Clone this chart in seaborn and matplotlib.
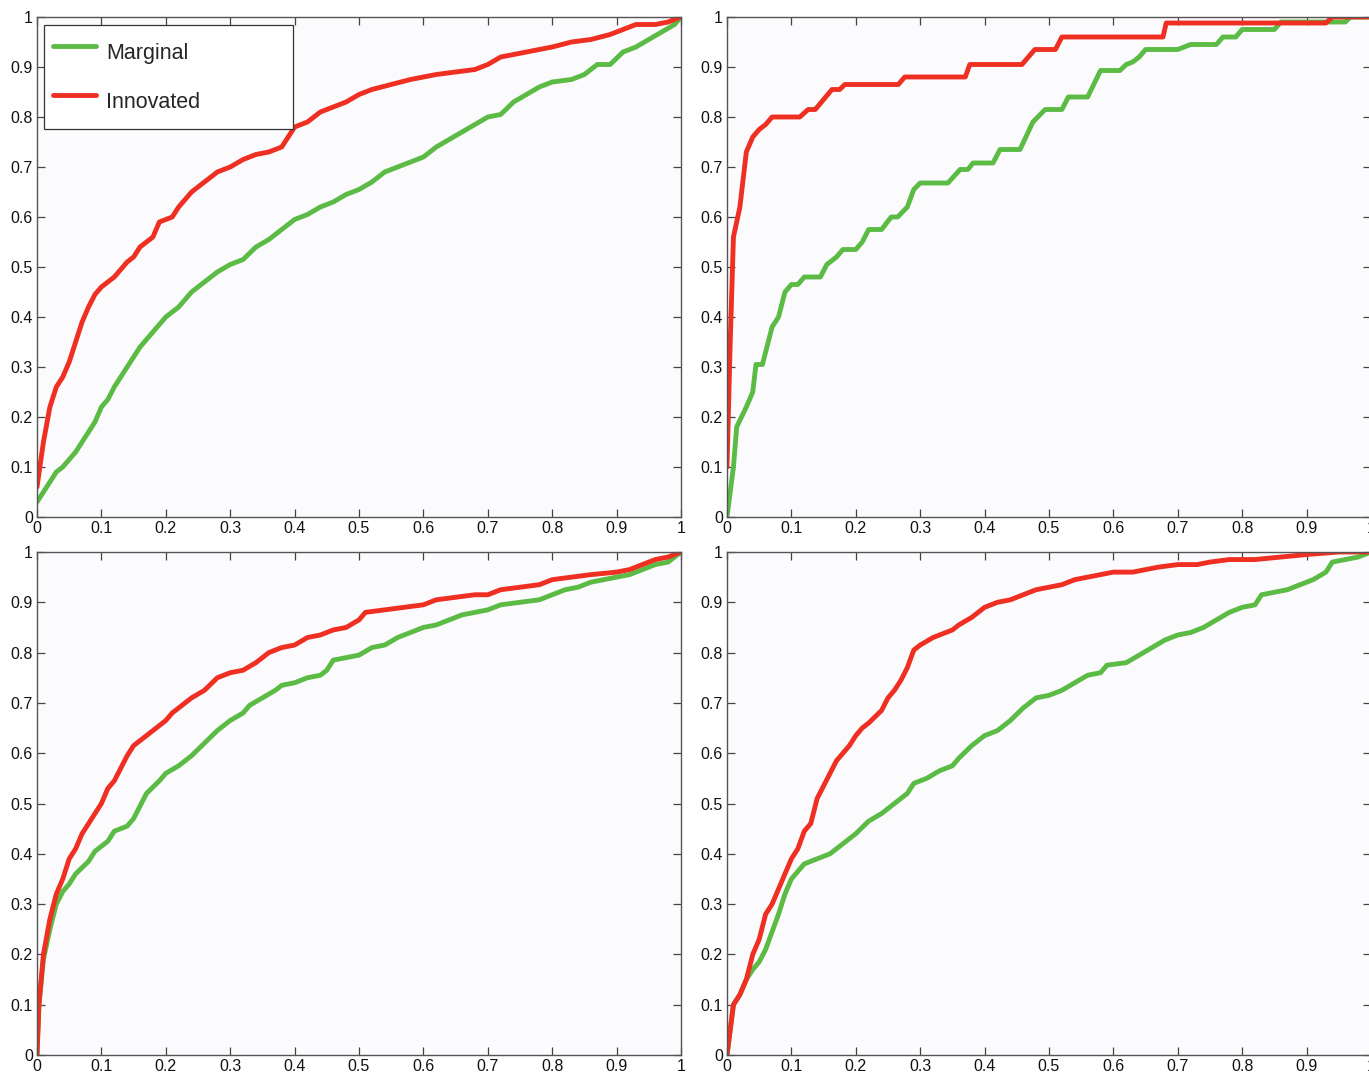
import numpy as np
import pandas as pd
import seaborn as sns
import matplotlib.pyplot as plt

# top-left panel
tl_x_innov = [0, 0.01, 0.02, 0.03, 0.04, 0.05, 0.06, 0.07, 0.08, 0.09, 0.1, 0.12, 0.14, 0.15, 0.16, 0.18,
              0.19, 0.21, 0.22, 0.24, 0.26, 0.28, 0.30, 0.32, 0.34, 0.36, 0.38, 0.40, 0.42, 0.44, 0.46, 0.48,
              0.50, 0.52, 0.55, 0.58, 0.60, 0.62, 0.65, 0.68, 0.70, 0.72, 0.74, 0.76, 0.78, 0.80, 0.83, 0.86,
              0.89, 0.91, 0.93, 0.96, 0.98, 1.0]
tl_y_innov = [0.06, 0.15, 0.22, 0.26, 0.28, 0.31, 0.35, 0.39, 0.42, 0.445, 0.46, 0.48, 0.51, 0.52, 0.54, 0.56,
              0.59, 0.60, 0.62, 0.65, 0.67, 0.69, 0.70, 0.715, 0.725, 0.73, 0.74, 0.78, 0.79, 0.81, 0.82, 0.83,
              0.845, 0.855, 0.865, 0.875, 0.88, 0.885, 0.89, 0.895, 0.905, 0.92, 0.925, 0.93, 0.935, 0.94, 0.95, 0.955,
              0.965, 0.975, 0.985, 0.985, 0.99, 1.0]
tl_x_marg = [0, 0.01, 0.02, 0.03, 0.04, 0.06, 0.07, 0.08, 0.09, 0.10, 0.11, 0.12, 0.13, 0.14, 0.15, 0.16,
             0.18, 0.20, 0.22, 0.24, 0.26, 0.28, 0.30, 0.32, 0.34, 0.36, 0.38, 0.40, 0.42, 0.44, 0.46, 0.48,
             0.50, 0.52, 0.54, 0.56, 0.58, 0.60, 0.62, 0.64, 0.66, 0.68, 0.70, 0.72, 0.74, 0.76, 0.78, 0.80,
             0.83, 0.85, 0.87, 0.89, 0.91, 0.93, 0.95, 0.97, 0.99, 1.0]
tl_y_marg = [0.03, 0.05, 0.07, 0.09, 0.10, 0.13, 0.15, 0.17, 0.19, 0.22, 0.235, 0.26, 0.28, 0.30, 0.32, 0.34,
             0.37, 0.40, 0.42, 0.45, 0.47, 0.49, 0.505, 0.515, 0.54, 0.555, 0.575, 0.595, 0.605, 0.62, 0.63, 0.645,
             0.655, 0.67, 0.69, 0.70, 0.71, 0.72, 0.74, 0.755, 0.77, 0.785, 0.80, 0.805, 0.83, 0.845, 0.86, 0.87,
             0.875, 0.885, 0.905, 0.905, 0.93, 0.94, 0.955, 0.97, 0.985, 1.0]

# top-right panel
tr_x_innov = [0, 0.005, 0.01, 0.02, 0.03, 0.04, 0.05, 0.06, 0.07, 0.113, 0.126, 0.137, 0.163, 0.175, 0.183,
              0.266, 0.276, 0.37, 0.377, 0.458, 0.478, 0.51, 0.52, 0.677, 0.682, 0.93, 0.94, 1.0]
tr_y_innov = [0.1, 0.35, 0.56, 0.62, 0.73, 0.76, 0.775, 0.785, 0.80, 0.80, 0.815, 0.815, 0.855, 0.855, 0.865,
              0.865, 0.88, 0.88, 0.905, 0.905, 0.935, 0.935, 0.96, 0.96, 0.988, 0.988, 1.0, 1.0]
tr_x_marg = [0, 0.01, 0.015, 0.03, 0.04, 0.045, 0.055, 0.07, 0.08, 0.09, 0.10, 0.11, 0.12, 0.145, 0.155, 0.17,
             0.18, 0.2, 0.21, 0.22, 0.24, 0.255, 0.265, 0.28, 0.29, 0.30, 0.343, 0.362, 0.374, 0.382, 0.413, 0.424,
             0.455, 0.475, 0.494, 0.52, 0.53, 0.56, 0.58, 0.61, 0.62, 0.63, 0.64, 0.65, 0.70, 0.72, 0.76, 0.77,
             0.79, 0.80, 0.85, 0.86, 0.96, 0.968, 1.0]
tr_y_marg = [0.0, 0.1, 0.18, 0.22, 0.25, 0.305, 0.305, 0.38, 0.40, 0.45, 0.465, 0.465, 0.48, 0.48, 0.505, 0.52,
             0.535, 0.535, 0.55, 0.575, 0.575, 0.60, 0.60, 0.62, 0.655, 0.668, 0.668, 0.695, 0.695, 0.708, 0.708, 0.735,
             0.735, 0.79, 0.815, 0.815, 0.84, 0.84, 0.893, 0.893, 0.905, 0.91, 0.92, 0.935, 0.935, 0.945, 0.945, 0.96,
             0.96, 0.975, 0.975, 0.99, 0.99, 1.0, 1.0]

# bottom-left panel
bl_x_innov = [0, 0.003, 0.01, 0.02, 0.03, 0.04, 0.05, 0.06, 0.07, 0.08, 0.09, 0.10, 0.11, 0.12, 0.13, 0.14,
              0.15, 0.16, 0.18, 0.2, 0.21, 0.22, 0.24, 0.26, 0.28, 0.30, 0.32, 0.34, 0.36, 0.38, 0.40, 0.42,
              0.44, 0.46, 0.48, 0.50, 0.51, 0.54, 0.57, 0.60, 0.62, 0.65, 0.68, 0.70, 0.72, 0.75, 0.78, 0.80,
              0.83, 0.86, 0.90, 0.92, 0.94, 0.96, 0.98, 1.0]
bl_y_innov = [0.0, 0.1, 0.2, 0.27, 0.32, 0.35, 0.39, 0.41, 0.44, 0.46, 0.48, 0.50, 0.53, 0.545, 0.57, 0.595,
              0.615, 0.625, 0.645, 0.665, 0.68, 0.69, 0.71, 0.725, 0.75, 0.76, 0.765, 0.78, 0.80, 0.81, 0.815, 0.83,
              0.835, 0.845, 0.85, 0.865, 0.88, 0.885, 0.89, 0.895, 0.905, 0.91, 0.915, 0.915, 0.925, 0.93, 0.935, 0.945,
              0.95, 0.955, 0.96, 0.965, 0.975, 0.985, 0.99, 1.0]
bl_x_marg = [0, 0.003, 0.01, 0.02, 0.03, 0.04, 0.05, 0.06, 0.08, 0.09, 0.11, 0.12, 0.14, 0.15, 0.16, 0.17,
             0.19, 0.20, 0.22, 0.24, 0.26, 0.28, 0.30, 0.32, 0.33, 0.35, 0.37, 0.38, 0.40, 0.42, 0.44, 0.45,
             0.46, 0.48, 0.50, 0.52, 0.54, 0.56, 0.58, 0.60, 0.62, 0.64, 0.66, 0.68, 0.70, 0.72, 0.75, 0.78,
             0.80, 0.82, 0.84, 0.86, 0.88, 0.90, 0.92, 0.94, 0.96, 0.98, 1.0]
bl_y_marg = [0.0, 0.1, 0.19, 0.25, 0.30, 0.325, 0.34, 0.36, 0.385, 0.405, 0.425, 0.445, 0.455, 0.47, 0.495, 0.52,
             0.545, 0.56, 0.575, 0.595, 0.62, 0.645, 0.665, 0.68, 0.695, 0.71, 0.725, 0.735, 0.74, 0.75, 0.755, 0.765,
             0.785, 0.79, 0.795, 0.81, 0.815, 0.83, 0.84, 0.85, 0.855, 0.865, 0.875, 0.88, 0.885, 0.895, 0.90, 0.905,
             0.915, 0.925, 0.93, 0.94, 0.945, 0.95, 0.955, 0.965, 0.975, 0.98, 1.0]

# bottom-right panel
br_x_innov = [0, 0.005, 0.01, 0.02, 0.03, 0.04, 0.05, 0.06, 0.07, 0.08, 0.09, 0.10, 0.11, 0.12, 0.13, 0.14,
              0.15, 0.16, 0.17, 0.18, 0.19, 0.20, 0.21, 0.22, 0.24, 0.25, 0.26, 0.27, 0.28, 0.29, 0.30, 0.32,
              0.34, 0.35, 0.36, 0.38, 0.40, 0.42, 0.44, 0.46, 0.48, 0.50, 0.52, 0.54, 0.56, 0.58, 0.60, 0.63,
              0.65, 0.67, 0.70, 0.73, 0.75, 0.78, 0.82, 0.86, 0.9, 0.95, 1.0]
br_y_innov = [0.0, 0.05, 0.1, 0.12, 0.15, 0.20, 0.23, 0.28, 0.30, 0.33, 0.36, 0.39, 0.41, 0.445, 0.46, 0.51,
              0.535, 0.56, 0.585, 0.60, 0.615, 0.635, 0.65, 0.66, 0.685, 0.71, 0.725, 0.745, 0.77, 0.805, 0.815, 0.83,
              0.84, 0.845, 0.855, 0.87, 0.89, 0.90, 0.905, 0.915, 0.925, 0.93, 0.935, 0.945, 0.95, 0.955, 0.96, 0.96,
              0.965, 0.97, 0.975, 0.975, 0.98, 0.985, 0.985, 0.99, 0.995, 1.0, 1.0]
br_x_marg = [0, 0.01, 0.02, 0.03, 0.04, 0.05, 0.06, 0.07, 0.08, 0.09, 0.10, 0.11, 0.12, 0.14, 0.16, 0.18,
             0.20, 0.22, 0.24, 0.26, 0.28, 0.29, 0.31, 0.33, 0.35, 0.36, 0.38, 0.40, 0.42, 0.44, 0.46, 0.48,
             0.50, 0.52, 0.54, 0.56, 0.58, 0.59, 0.62, 0.64, 0.66, 0.68, 0.70, 0.72, 0.74, 0.76, 0.78, 0.80,
             0.82, 0.83, 0.85, 0.87, 0.89, 0.91, 0.93, 0.94, 0.96, 0.98, 1.0]
br_y_marg = [0.0, 0.1, 0.12, 0.15, 0.17, 0.185, 0.21, 0.245, 0.28, 0.32, 0.35, 0.365, 0.38, 0.39, 0.40, 0.42,
             0.44, 0.465, 0.48, 0.50, 0.52, 0.54, 0.55, 0.565, 0.575, 0.59, 0.615, 0.635, 0.645, 0.665, 0.69, 0.71,
             0.715, 0.725, 0.74, 0.755, 0.76, 0.775, 0.78, 0.795, 0.81, 0.825, 0.835, 0.84, 0.85, 0.865, 0.88, 0.89,
             0.895, 0.915, 0.92, 0.925, 0.935, 0.945, 0.96, 0.98, 0.985, 0.99, 1.0]

ticks = [0, 0.1, 0.2, 0.3, 0.4, 0.5, 0.6, 0.7, 0.8, 0.9, 1]
tick_labels = ['0', '0.1', '0.2', '0.3', '0.4', '0.5', '0.6', '0.7', '0.8', '0.9', '1']

sns.set_style("ticks")
plt.rcParams['font.family'] = ['Liberation Sans', 'DejaVu Sans']

GREEN = '#5bbb45'
RED = '#ee2f22'

fig = plt.figure(figsize=(13.69, 10.72), dpi=100)
W, H = 1369, 1072
# axes boxes in pixels: left, right, top, bottom (right panels run just past the image edge)
boxes = [(37, 681, 17, 517), (727, 1371, 17, 517), (37, 681, 552, 1055), (727, 1371, 552, 1055)]
panels = [
    (tl_x_marg, tl_y_marg, tl_x_innov, tl_y_innov),
    (tr_x_marg, tr_y_marg, tr_x_innov, tr_y_innov),
    (bl_x_marg, bl_y_marg, bl_x_innov, bl_y_innov),
    (br_x_marg, br_y_marg, br_x_innov, br_y_innov),
]

for i, ((l, r, t, b), (xm, ym, xi, yi)) in enumerate(zip(boxes, panels)):
    ax = fig.add_axes([l / W, 1 - b / H, (r - l) / W, (b - t) / H])
    ax.set_facecolor('#fbfbfd')
    df = pd.concat([
        pd.DataFrame({'x': xm, 'y': ym, 'method': 'Marginal'}),
        pd.DataFrame({'x': xi, 'y': yi, 'method': 'Innovated'}),
    ])
    sns.lineplot(data=df, x='x', y='y', hue='method', palette={'Marginal': GREEN, 'Innovated': RED},
                 estimator=None, sort=False, linewidth=3.5, ax=ax, legend=(i == 0))
    ax.set_xlim(0, 1)
    ax.set_ylim(0, 1)
    ax.set_xticks(ticks)
    ax.set_xticklabels(tick_labels)
    ax.set_yticks(ticks)
    ax.set_yticklabels(tick_labels)
    ax.set_xlabel('')
    ax.set_ylabel('')
    ax.tick_params(direction='in', top=True, right=True, length=6, width=0.9, color='#444444',
                   labelsize=11.5, pad=3, labelcolor='#111111')
    for s in ax.spines.values():
        s.set_visible(True)
        s.set_color('#555555')
        s.set_linewidth(1.0)
    if i == 0:
        ax.legend(title=None, loc='upper left', bbox_to_anchor=(0.011, 0.5, 0.387, 0.484),
                  mode='expand', frameon=True, fancybox=False, edgecolor='#333333', framealpha=1,
                  fontsize=15.5, handlelength=2.0, handleheight=2.34, handletextpad=0.48,
                  labelspacing=0.51, borderpad=0.4, borderaxespad=0)
        ax.get_legend().get_frame().set_linewidth(0.9)

fig.savefig('out.png', dpi=100)
